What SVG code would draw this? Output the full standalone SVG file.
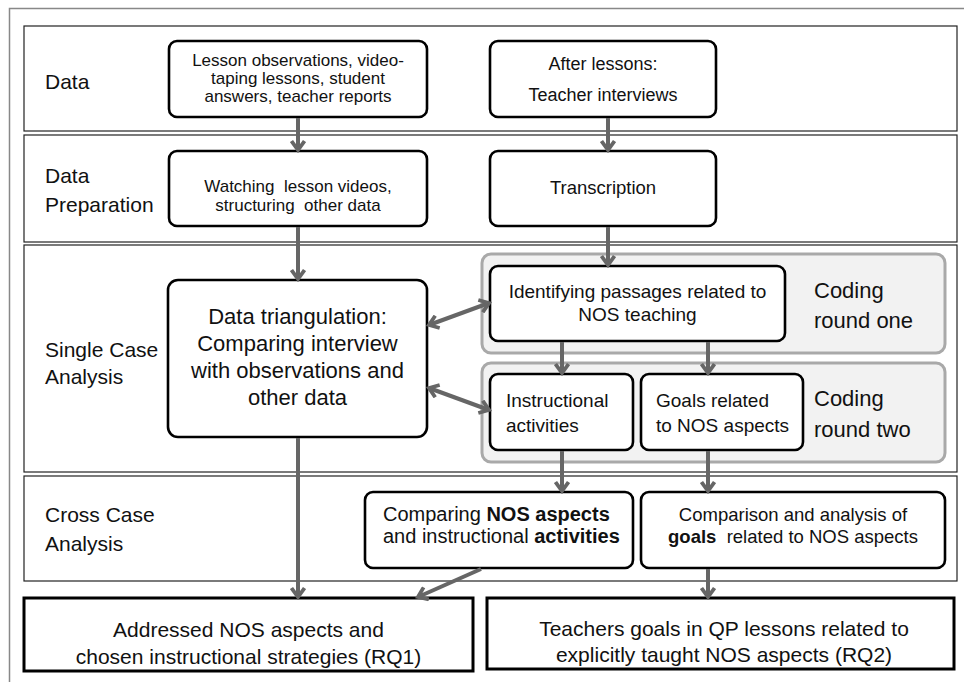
<svg xmlns="http://www.w3.org/2000/svg" width="964" height="682" viewBox="0 0 964 682">
<defs>
<marker id="ah" viewBox="0 0 16 16" refX="13" refY="8" markerWidth="16" markerHeight="16" markerUnits="userSpaceOnUse" orient="auto-start-reverse">
<path d="M4,1.5 L13,8 L4,14.5" fill="none" stroke="#666" stroke-width="3.8" stroke-linejoin="miter"/>
</marker>
</defs>
<style>
text{font-family:"Liberation Sans",Arial,sans-serif;fill:#111}
.band{fill:#fff;stroke:#222;stroke-width:1.2}
.node{fill:#fff;stroke:#000;stroke-width:2.6}
.res{fill:#fff;stroke:#000;stroke-width:3}
.grp{fill:#f2f2f2;stroke:#a9a9a9;stroke-width:3}
.lbl{font-size:21px}
.c{text-anchor:middle}
.con line{stroke:#666;stroke-width:4;marker-end:url(#ah)}
.b{font-weight:bold}
</style>
<rect x="9.5" y="8.5" width="980" height="700" fill="#fff" stroke="#888" stroke-width="1.5"/>
<g id="bands">
<rect class="band" x="24" y="26" width="933" height="105"/>
<rect class="band" x="24" y="135" width="933" height="107"/>
<rect class="band" x="24" y="245" width="933" height="227"/>
<rect class="band" x="24" y="476" width="933" height="105"/>
<text class="lbl" x="45" y="89">Data</text>
<text class="lbl" x="45" y="183">Data</text>
<text class="lbl" x="45" y="212">Preparation</text>
<text class="lbl" x="45" y="357">Single Case</text>
<text class="lbl" x="45" y="384">Analysis</text>
<text class="lbl" x="45" y="522">Cross Case</text>
<text class="lbl" x="45" y="551">Analysis</text>
</g>
<g id="coding-round-one">
<rect class="grp" x="482" y="254" width="463" height="99" rx="9"/>
<text x="814" y="298" style="font-size:22px">Coding</text>
<text x="814" y="328" style="font-size:22px">round one</text>
</g>
<g id="coding-round-two">
<rect class="grp" x="482" y="363" width="463" height="99" rx="9"/>
<text x="814" y="406" style="font-size:22px">Coding</text>
<text x="814" y="437" style="font-size:22px">round two</text>
</g>
<g id="n-lesson">
<rect class="node" x="169" y="41" width="258" height="76" rx="8"/>
<text class="c" x="298" y="66" style="font-size:17px">Lesson observations, video-</text>
<text class="c" x="298" y="84" style="font-size:17px">taping lessons, student</text>
<text class="c" x="298" y="102" style="font-size:17px">answers, teacher reports</text>
</g>
<g id="n-after">
<rect class="node" x="490" y="41" width="226" height="76" rx="8"/>
<text class="c" x="603" y="70" style="font-size:18px">After lessons:</text>
<text class="c" x="603" y="101" style="font-size:18px">Teacher interviews</text>
</g>
<g id="n-watch">
<rect class="node" x="169" y="151" width="258" height="75" rx="8"/>
<text class="c" x="298" y="192" style="font-size:17px" xml:space="preserve">Watching  lesson videos,</text>
<text class="c" x="298" y="211" style="font-size:17px" xml:space="preserve">structuring  other data</text>
</g>
<g id="n-trans">
<rect class="node" x="490" y="151" width="226" height="75" rx="8"/>
<text class="c" x="603" y="194" style="font-size:18.5px">Transcription</text>
</g>
<g id="n-triang">
<rect class="node" x="168" y="280" width="259" height="157" rx="10"/>
<text class="c" x="297.5" y="324" style="font-size:22px">Data triangulation:</text>
<text class="c" x="297.5" y="351" style="font-size:22px">Comparing interview</text>
<text class="c" x="297.5" y="378" style="font-size:22px">with observations and</text>
<text class="c" x="297.5" y="405" style="font-size:22px">other data</text>
</g>
<g id="n-ident">
<rect class="node" x="490" y="266" width="295" height="75" rx="8"/>
<text class="c" x="637.5" y="298" style="font-size:19px">Identifying passages related to</text>
<text class="c" x="637.5" y="321" style="font-size:19px">NOS teaching</text>
</g>
<g id="n-instr">
<rect class="node" x="490" y="374" width="143" height="76" rx="8"/>
<text x="506" y="407" style="font-size:19px">Instructional</text>
<text x="506" y="432" style="font-size:19px">activities</text>
</g>
<g id="n-goals">
<rect class="node" x="641" y="374" width="162" height="76" rx="8"/>
<text x="656" y="407" style="font-size:19px">Goals related</text>
<text x="656" y="432" style="font-size:19px">to NOS aspects</text>
</g>
<g id="n-compnos">
<rect class="node" x="365" y="492" width="268" height="76" rx="8"/>
<text x="383" y="521" style="font-size:20px">Comparing <tspan class="b">NOS aspects</tspan></text>
<text x="383" y="543" style="font-size:20px">and instructional <tspan class="b">activities</tspan></text>
</g>
<g id="n-compgoals">
<rect class="node" x="641" y="492" width="304" height="76" rx="8"/>
<text class="c" x="793" y="521" style="font-size:18.5px">Comparison and analysis of</text>
<text class="c" x="793" y="543" style="font-size:18.5px" xml:space="preserve"><tspan class="b">goals</tspan>  related to NOS aspects</text>
</g>
<g id="n-rq1">
<rect class="res" x="24" y="598" width="449" height="73"/>
<text class="c" x="248.5" y="637" style="font-size:21px">Addressed NOS aspects and</text>
<text class="c" x="248.5" y="664" style="font-size:21px">chosen instructional strategies (RQ1)</text>
</g>
<g id="n-rq2">
<rect class="res" x="487" y="598" width="467" height="71"/>
<text class="c" x="724" y="636" style="font-size:21px">Teachers goals in QP lessons related to</text>
<text class="c" x="724" y="662" style="font-size:21px">explicitly taught NOS aspects (RQ2)</text>
</g>
<g id="connectors" class="con">
<line x1="298" y1="118" x2="298" y2="150"/>
<line x1="608" y1="118" x2="608" y2="150"/>
<line x1="298" y1="227" x2="298" y2="279"/>
<line x1="608" y1="227" x2="608" y2="265"/>
<line x1="429" y1="325" x2="489" y2="303" style="marker-start:url(#ah)"/>
<line x1="429" y1="388" x2="489" y2="410" style="marker-start:url(#ah)"/>
<line x1="562" y1="342" x2="562" y2="373"/>
<line x1="708" y1="342" x2="708" y2="373"/>
<line x1="562" y1="451" x2="562" y2="491"/>
<line x1="708" y1="451" x2="708" y2="491"/>
<line x1="298" y1="438" x2="298" y2="597"/>
<line x1="481" y1="569" x2="418" y2="597"/>
<line x1="708" y1="569" x2="708" y2="597"/>
</g>
</svg>
